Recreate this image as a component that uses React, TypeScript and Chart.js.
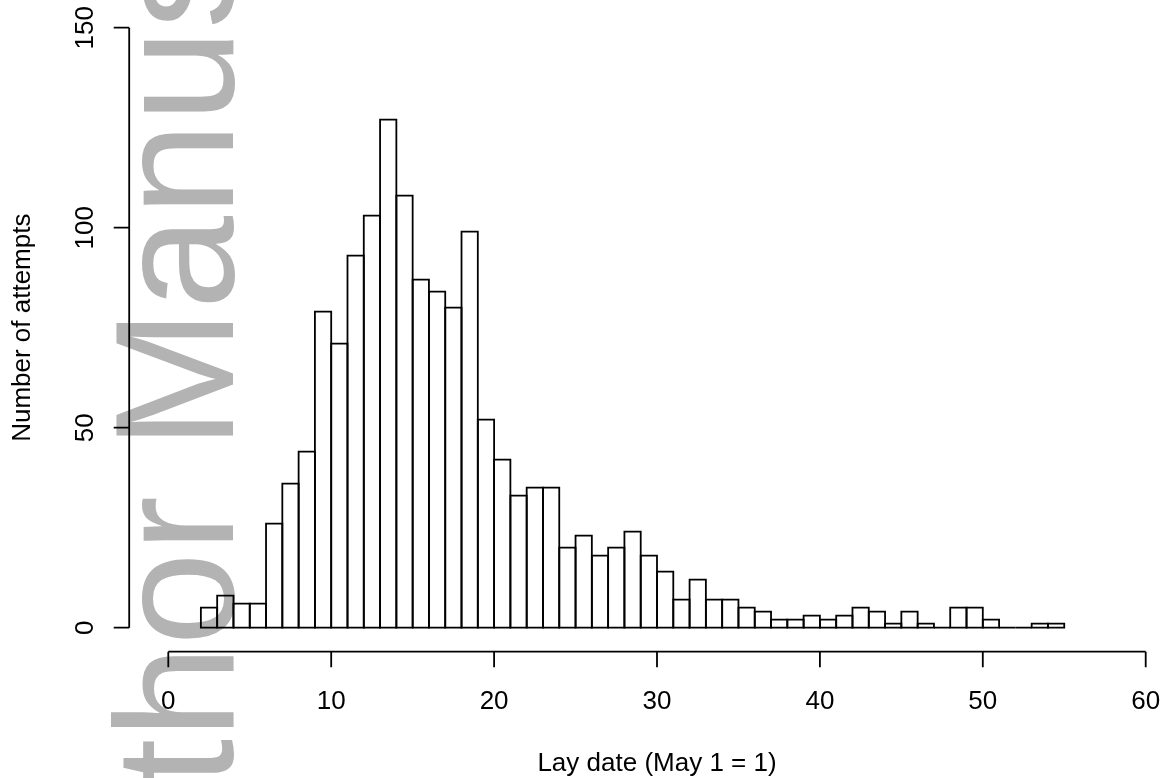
import React, { useEffect, useRef } from "react";
import { Chart, registerables } from "chart.js";

Chart.register(...registerables);

// Histogram of lay dates: each bin covers [binStarts[i], binStarts[i] + 1)
const binStarts = [
  2, 3, 4, 5, 6, 7, 8, 9, 10, 11, 12, 13, 14, 15, 16, 17, 18, 19, 20, 21, 22, 23, 24, 25, 26, 27,
  28, 29, 30, 31, 32, 33, 34, 35, 36, 37, 38, 39, 40, 41, 42, 43, 44, 45, 46, 47, 48, 49, 50, 51,
  52, 53, 54,
];
const counts = [
  5, 8, 6, 6, 26, 36, 44, 79, 71, 93, 103, 127, 108, 87, 84, 80, 99, 52, 42, 33, 35, 35, 20, 23,
  18, 20, 24, 18, 14, 7, 12, 7, 7, 5, 4, 2, 2, 3, 2, 3, 5, 4, 1, 4, 1, 0, 5, 5, 2, 0, 0, 1, 1,
];
const binWidth = 1;

// Axis ticks
const xTicks = [0, 10, 20, 30, 40, 50, 60];
const yTicks = [0, 50, 100, 150];

const xTitle = "Lay date (May 1 = 1)";
const yTitle = "Number of attempts";
const watermark = "Author Manuscript";

const FONT = '"Liberation Sans", Arial, Helvetica, sans-serif';
const LABEL_SIZE = 26;
const LINE_W = 1.8;

// Base-graphics style: axes sit 4% of the range away from the data region
const X_EXT = 0.04 * (xTicks[xTicks.length - 1] - xTicks[0]);
const Y_EXT = 0.04 * (yTicks[yTicks.length - 1] - yTicks[0]);

const histPlugin = {
  id: "baseHistogram",
  beforeDraw(chart: any) {
    const { ctx, width, height } = chart;
    ctx.save();
    ctx.fillStyle = "#ffffff";
    ctx.fillRect(0, 0, width, height);
    // vertical watermark running bottom-to-top along the left side
    ctx.translate(233, 991);
    ctx.rotate(-Math.PI / 2);
    ctx.font = `168px ${FONT}`;
    ctx.fillStyle = "#b3b3b3";
    ctx.textAlign = "left";
    ctx.textBaseline = "alphabetic";
    ctx.fillText(watermark, 0, 0);
    ctx.restore();
  },
  afterDatasetsDraw(chart: any) {
    const { ctx } = chart;
    const xs = chart.scales.x;
    const ys = chart.scales.y;
    ctx.save();
    ctx.strokeStyle = "#000000";
    ctx.fillStyle = "#000000";
    ctx.lineWidth = LINE_W;
    ctx.lineJoin = "miter";

    // open (unfilled) bar outlines, strokes centred on the bin edges
    const meta = chart.getDatasetMeta(0);
    meta.data.forEach((el: any) => {
      const { x, y, base, width } = el.getProps(["x", "y", "base", "width"], true);
      ctx.beginPath();
      ctx.rect(x - width / 2, Math.min(y, base), width, Math.abs(base - y));
      ctx.stroke();
    });

    // x axis
    const axisY = ys.getPixelForValue(-Y_EXT);
    const x0 = xs.getPixelForValue(xTicks[0]);
    const x1 = xs.getPixelForValue(xTicks[xTicks.length - 1]);
    ctx.beginPath();
    ctx.moveTo(x0, axisY);
    ctx.lineTo(x1, axisY);
    xTicks.forEach((v) => {
      const px = xs.getPixelForValue(v);
      ctx.moveTo(px, axisY);
      ctx.lineTo(px, axisY + 15.5);
    });
    ctx.stroke();
    ctx.font = `${LABEL_SIZE}px ${FONT}`;
    ctx.textAlign = "center";
    ctx.textBaseline = "alphabetic";
    xTicks.forEach((v) => {
      ctx.fillText(String(v), xs.getPixelForValue(v), axisY + 57);
    });
    ctx.fillText(xTitle, (chart.chartArea.left + chart.chartArea.right) / 2, axisY + 119);

    // y axis
    const axisX = xs.getPixelForValue(-X_EXT);
    const yA = ys.getPixelForValue(yTicks[0]);
    const yB = ys.getPixelForValue(yTicks[yTicks.length - 1]);
    ctx.beginPath();
    ctx.moveTo(axisX, yA);
    ctx.lineTo(axisX, yB);
    yTicks.forEach((v) => {
      const py = ys.getPixelForValue(v);
      ctx.moveTo(axisX, py);
      ctx.lineTo(axisX - 15.5, py);
    });
    ctx.stroke();
    yTicks.forEach((v) => {
      ctx.save();
      ctx.translate(axisX - 36, ys.getPixelForValue(v));
      ctx.rotate(-Math.PI / 2);
      ctx.fillText(String(v), 0, 0);
      ctx.restore();
    });
    ctx.save();
    ctx.translate(axisX - 99, (chart.chartArea.top + chart.chartArea.bottom) / 2);
    ctx.rotate(-Math.PI / 2);
    ctx.fillText(yTitle, 0, 0);
    ctx.restore();

    ctx.restore();
  },
};

export default function App() {
  const canvasRef = useRef<HTMLCanvasElement | null>(null);

  useEffect(() => {
    const canvas = canvasRef.current;
    if (!canvas) return;
    const chart = new Chart(canvas, {
      type: "bar",
      data: {
        datasets: [
          {
            data: binStarts.map((s, i) => ({ x: s + binWidth / 2, y: counts[i] })),
            backgroundColor: "rgba(0,0,0,0)",
            borderWidth: 0,
            barPercentage: 1,
            categoryPercentage: 1,
          },
        ],
      },
      options: {
        responsive: false,
        animation: false,
        devicePixelRatio: 1,
        layout: {
          padding: { left: 168.3, right: 17.3, top: 27.7, bottom: 150.3 },
        },
        scales: {
          x: {
            type: "linear",
            min: xTicks[0],
            max: xTicks[xTicks.length - 1],
            offset: false,
            display: false,
          },
          y: {
            min: yTicks[0],
            max: yTicks[yTicks.length - 1],
            display: false,
          },
        },
        plugins: {
          legend: { display: false },
          tooltip: { enabled: false },
        },
      },
      plugins: [histPlugin],
    });
    return () => chart.destroy();
  }, []);

  return (
    <div style={{ position: "fixed", left: 0, top: 0, width: 1163, height: 778, background: "#fff" }}>
      <canvas ref={canvasRef} width={1163} height={778} style={{ display: "block" }} />
    </div>
  );
}
